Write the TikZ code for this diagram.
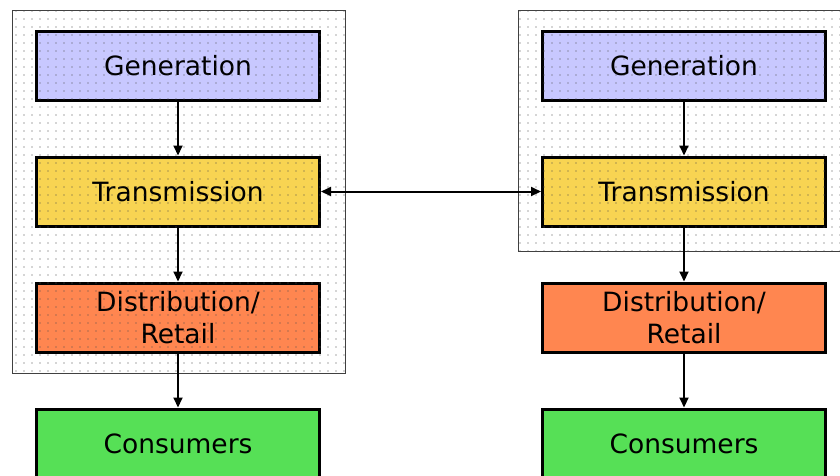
\documentclass[tikz,border=0pt]{standalone}
\usepackage{fontspec}
\setmainfont{DejaVu Sans}
\usetikzlibrary{positioning,arrows.meta,patterns.meta}

\definecolor{gencol}{RGB}{200,200,255}
\definecolor{tracol}{RGB}{248,212,82}
\definecolor{discol}{RGB}{255,134,80}
\definecolor{concol}{RGB}{86,224,86}

\begin{document}
\begin{tikzpicture}[x=1pt,y=-1pt,
    box/.style={draw, line width=3pt, minimum width=283pt, minimum height=69pt,
      inner sep=0pt, align=center, font=\fontsize{26.5}{32}\selectfont},
    link/.style={line width=2pt, -{Triangle[length=10pt,width=9pt]}},
    panel/.style={draw=black!75, line width=0.8pt, fill=white},
    dotfill/.style={pattern={Dots[distance=8pt,radius=0.7pt]}, pattern color=black!70}
    ]
  \useasboundingbox (0,0) rectangle (840,475);

  % two market panels
  \draw[panel] (12,10) rectangle (345,373);
  \draw[panel] (518,10) rectangle (860,251);

  % left chain
  \node[box, fill=gencol] (genA) at (178,65.5) {Generation};
  \node[box, fill=tracol, below=54pt of genA] (traA) {Transmission};
  \node[box, fill=discol, below=54pt of traA] (disA) {Distribution/\\Retail};
  \node[box, fill=concol, below=54pt of disA] (conA) {Consumers};

  % right chain
  \node[box, fill=gencol] (genB) at (684,65.5) {Generation};
  \node[box, fill=tracol, below=54pt of genB] (traB) {Transmission};
  \node[box, fill=discol, below=54pt of traB] (disB) {Distribution/\\Retail};
  \node[box, fill=concol, below=54pt of disB] (conB) {Consumers};

  % dots over the panels
  \fill[dotfill] (12,10) rectangle (345,373);
  \fill[dotfill] (518,10) rectangle (860,251);

  \draw[link] (genA) -- (traA);
  \draw[link] (traA) -- (disA);
  \draw[link] (disA) -- (conA);
  \draw[link] (genB) -- (traB);
  \draw[link] (traB) -- (disB);
  \draw[link] (disB) -- (conB);
  \draw[link, {Triangle[length=10pt,width=9pt]}-{Triangle[length=10pt,width=9pt]}] (traA) -- (traB);
\end{tikzpicture}
\end{document}
